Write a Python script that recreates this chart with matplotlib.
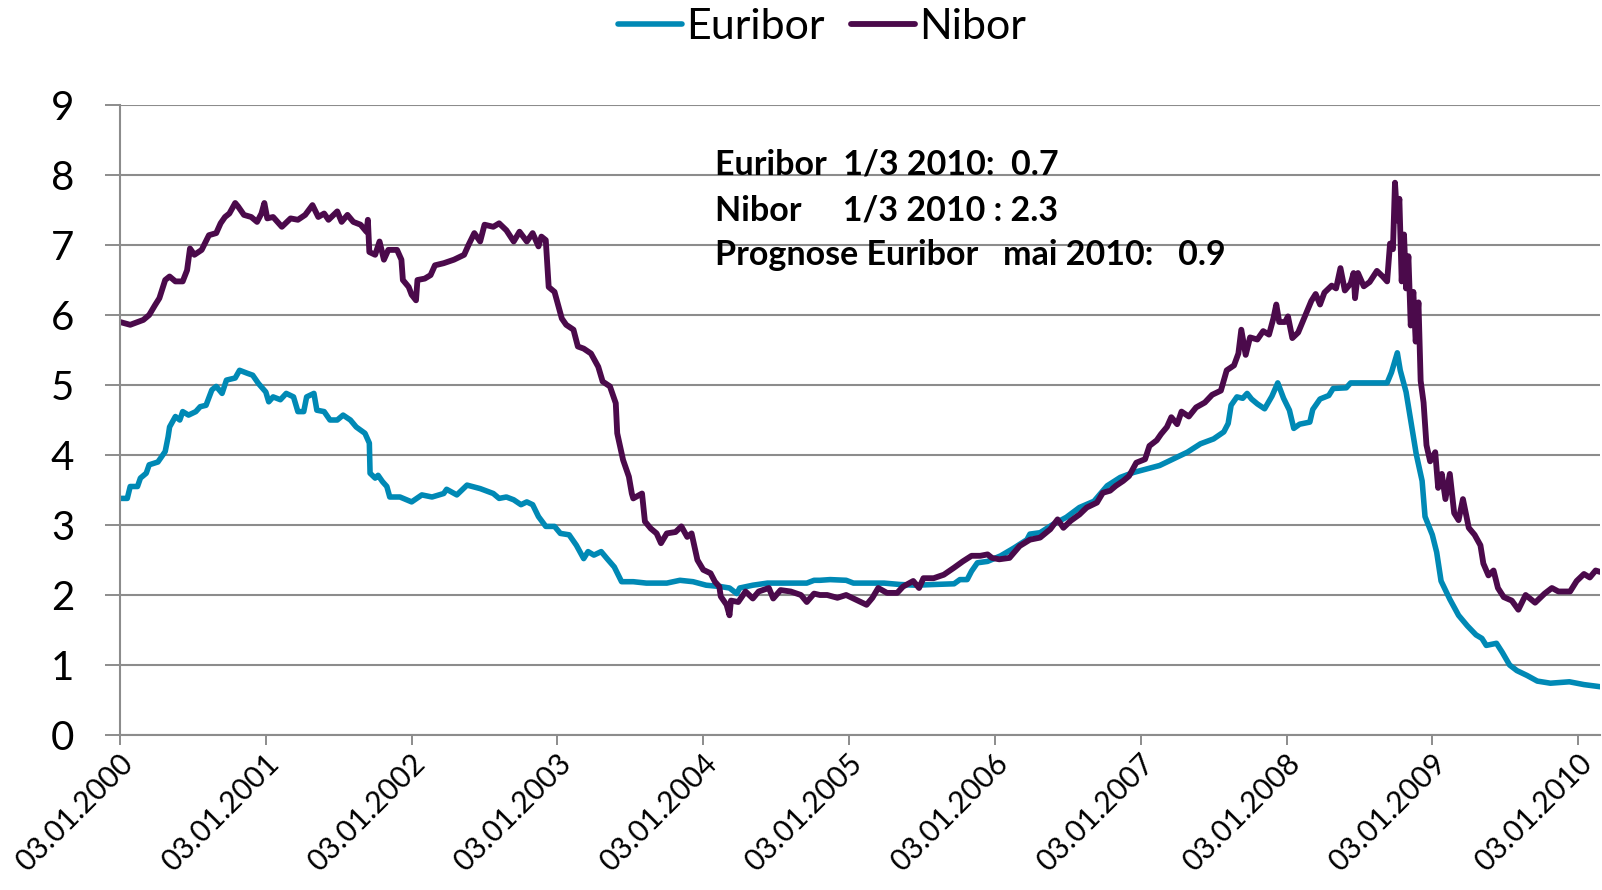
import matplotlib
matplotlib.use("Agg")
import matplotlib.pyplot as plt
import matplotlib.transforms as mtrans

# (years since 03.01.2000, rate in %)
euribor = [(0.00, 3.38), (0.05, 3.38), (0.07, 3.55), (0.12, 3.55), (0.14, 3.67), (0.18, 3.74),
           (0.20, 3.86), (0.26, 3.90), (0.31, 4.05), (0.33, 4.26), (0.34, 4.40), (0.38, 4.55),
           (0.41, 4.50), (0.43, 4.62), (0.47, 4.57), (0.52, 4.62), (0.55, 4.69), (0.59, 4.71),
           (0.63, 4.93), (0.66, 4.98), (0.70, 4.88), (0.73, 5.07), (0.79, 5.10), (0.82, 5.21),
           (0.87, 5.17), (0.91, 5.14), (0.95, 5.02), (1.00, 4.90), (1.02, 4.76), (1.05, 4.83),
           (1.10, 4.79), (1.14, 4.88), (1.19, 4.83), (1.22, 4.62), (1.26, 4.62), (1.28, 4.83),
           (1.33, 4.88), (1.35, 4.64), (1.40, 4.62), (1.44, 4.50), (1.49, 4.50), (1.53, 4.57),
           (1.58, 4.50), (1.62, 4.40), (1.68, 4.31), (1.71, 4.17), (1.715, 3.74), (1.75, 3.67),
           (1.77, 3.71), (1.80, 3.62), (1.83, 3.55), (1.85, 3.40), (1.92, 3.40), (2.00, 3.33),
           (2.07, 3.43), (2.14, 3.40), (2.22, 3.45), (2.24, 3.51), (2.31, 3.43), (2.38, 3.57),
           (2.47, 3.52), (2.56, 3.45), (2.60, 3.38), (2.65, 3.40), (2.70, 3.36), (2.75, 3.29),
           (2.79, 3.33), (2.83, 3.29), (2.87, 3.12), (2.92, 2.98), (2.98, 2.98), (3.02, 2.88),
           (3.08, 2.86), (3.13, 2.71), (3.18, 2.52), (3.21, 2.62), (3.25, 2.57), (3.30, 2.62),
           (3.34, 2.52), (3.39, 2.40), (3.44, 2.19), (3.52, 2.19), (3.61, 2.17), (3.75, 2.17),
           (3.84, 2.21), (3.93, 2.19), (4.02, 2.14), (4.12, 2.12), (4.18, 2.10), (4.23, 2.02),
           (4.25, 2.10), (4.34, 2.14), (4.44, 2.17), (4.53, 2.17), (4.62, 2.17), (4.71, 2.17),
           (4.76, 2.21), (4.80, 2.21), (4.87, 2.22), (4.98, 2.21), (5.03, 2.17), (5.24, 2.17),
           (5.35, 2.15), (5.46, 2.14), (5.58, 2.15), (5.72, 2.16), (5.76, 2.22), (5.81, 2.22),
           (5.84, 2.34), (5.88, 2.46), (5.95, 2.48), (6.04, 2.56), (6.13, 2.67), (6.22, 2.79),
           (6.24, 2.87), (6.31, 2.89), (6.40, 3.01), (6.49, 3.11), (6.58, 3.25), (6.68, 3.34),
           (6.77, 3.56), (6.86, 3.68), (6.95, 3.75), (7.04, 3.80), (7.13, 3.85), (7.22, 3.94),
           (7.32, 4.04), (7.41, 4.16), (7.50, 4.23), (7.57, 4.33), (7.60, 4.45), (7.62, 4.71),
           (7.66, 4.83), (7.70, 4.81), (7.73, 4.88), (7.76, 4.80), (7.80, 4.73), (7.85, 4.66),
           (7.90, 4.84), (7.94, 5.03), (7.98, 4.81), (8.02, 4.64), (8.05, 4.38), (8.09, 4.44),
           (8.16, 4.47), (8.18, 4.65), (8.23, 4.80), (8.29, 4.85), (8.32, 4.95), (8.41, 4.96),
           (8.44, 5.03), (8.55, 5.03), (8.69, 5.03), (8.72, 5.18), (8.76, 5.46), (8.78, 5.21),
           (8.82, 4.90), (8.86, 4.39), (8.89, 4.01), (8.93, 3.63), (8.95, 3.12), (9.00, 2.86),
           (9.03, 2.61), (9.06, 2.20), (9.12, 1.94), (9.18, 1.71), (9.24, 1.56), (9.30, 1.43),
           (9.34, 1.38), (9.37, 1.28), (9.44, 1.31), (9.48, 1.18), (9.53, 1.00), (9.58, 0.92),
           (9.65, 0.85), (9.72, 0.77), (9.81, 0.74), (9.94, 0.76), (10.04, 0.72), (10.15, 0.69)]

nibor = [(0.00, 5.90), (0.07, 5.86), (0.16, 5.93), (0.20, 6.00), (0.24, 6.14), (0.27, 6.24),
         (0.31, 6.50), (0.34, 6.55), (0.38, 6.48), (0.43, 6.48), (0.46, 6.64), (0.48, 6.95),
         (0.51, 6.86), (0.56, 6.93), (0.61, 7.14), (0.66, 7.17), (0.69, 7.31), (0.72, 7.40),
         (0.75, 7.45), (0.79, 7.60), (0.81, 7.55), (0.85, 7.43), (0.90, 7.40), (0.94, 7.33),
         (0.97, 7.45), (0.99, 7.60), (1.01, 7.38), (1.05, 7.40), (1.11, 7.26), (1.17, 7.38),
         (1.22, 7.36), (1.27, 7.43), (1.32, 7.57), (1.36, 7.40), (1.40, 7.45), (1.43, 7.36),
         (1.49, 7.48), (1.52, 7.33), (1.56, 7.43), (1.60, 7.33), (1.65, 7.29), (1.69, 7.19),
         (1.70, 7.36), (1.71, 6.90), (1.75, 6.86), (1.78, 7.05), (1.81, 6.79), (1.84, 6.93),
         (1.90, 6.93), (1.93, 6.79), (1.94, 6.50), (1.98, 6.40), (2.00, 6.29), (2.03, 6.21),
         (2.04, 6.50), (2.09, 6.52), (2.13, 6.57), (2.16, 6.71), (2.22, 6.74), (2.29, 6.79),
         (2.36, 6.86), (2.39, 7.00), (2.43, 7.17), (2.47, 7.05), (2.50, 7.29), (2.56, 7.26),
         (2.60, 7.31), (2.65, 7.21), (2.70, 7.05), (2.74, 7.19), (2.79, 7.05), (2.83, 7.17),
         (2.87, 6.98), (2.89, 7.12), (2.92, 7.07), (2.94, 6.40), (2.98, 6.33), (3.03, 5.95),
         (3.06, 5.86), (3.11, 5.79), (3.14, 5.55), (3.18, 5.52), (3.23, 5.45), (3.28, 5.26),
         (3.31, 5.05), (3.36, 4.98), (3.40, 4.74), (3.41, 4.31), (3.45, 3.93), (3.49, 3.69),
         (3.51, 3.45), (3.52, 3.38), (3.58, 3.45), (3.60, 3.05), (3.64, 2.95), (3.68, 2.88),
         (3.71, 2.74), (3.75, 2.88), (3.81, 2.90), (3.85, 2.98), (3.89, 2.83), (3.92, 2.88),
         (3.96, 2.50), (4.00, 2.36), (4.05, 2.31), (4.08, 2.19), (4.11, 2.12), (4.12, 1.98),
         (4.16, 1.86), (4.18, 1.71), (4.19, 1.92), (4.24, 1.90), (4.29, 2.05), (4.34, 1.95),
         (4.38, 2.05), (4.45, 2.10), (4.48, 1.95), (4.53, 2.07), (4.60, 2.05), (4.67, 2.00),
         (4.71, 1.90), (4.76, 2.02), (4.80, 2.00), (4.85, 2.00), (4.92, 1.96), (4.98, 2.00),
         (5.05, 1.93), (5.12, 1.86), (5.16, 1.96), (5.20, 2.10), (5.26, 2.03), (5.33, 2.03),
         (5.37, 2.12), (5.44, 2.20), (5.48, 2.10), (5.51, 2.24), (5.58, 2.24), (5.65, 2.29),
         (5.72, 2.39), (5.78, 2.48), (5.84, 2.56), (5.90, 2.56), (5.95, 2.58), (5.98, 2.53),
         (6.03, 2.51), (6.10, 2.53), (6.17, 2.70), (6.24, 2.79), (6.31, 2.82), (6.38, 2.94),
         (6.43, 3.08), (6.47, 2.96), (6.52, 3.06), (6.58, 3.15), (6.63, 3.25), (6.70, 3.32),
         (6.74, 3.46), (6.79, 3.49), (6.83, 3.56), (6.88, 3.63), (6.92, 3.70), (6.97, 3.89),
         (7.03, 3.94), (7.06, 4.13), (7.11, 4.21), (7.14, 4.30), (7.18, 4.40), (7.21, 4.54),
         (7.25, 4.44), (7.28, 4.62), (7.33, 4.55), (7.38, 4.68), (7.44, 4.75), (7.49, 4.86),
         (7.55, 4.92), (7.59, 5.21), (7.64, 5.28), (7.67, 5.45), (7.69, 5.79), (7.72, 5.43),
         (7.75, 5.68), (7.80, 5.65), (7.84, 5.77), (7.88, 5.72), (7.91, 5.95), (7.93, 6.15),
         (7.95, 5.90), (7.99, 5.90), (8.01, 5.98), (8.04, 5.67), (8.08, 5.75), (8.12, 5.95),
         (8.14, 6.05), (8.17, 6.20), (8.20, 6.30), (8.23, 6.15), (8.26, 6.32), (8.31, 6.42),
         (8.34, 6.38), (8.37, 6.67), (8.40, 6.35), (8.44, 6.45), (8.46, 6.60), (8.47, 6.24),
         (8.49, 6.60), (8.53, 6.41), (8.57, 6.47), (8.62, 6.63), (8.66, 6.55), (8.69, 6.48),
         (8.71, 7.02), (8.73, 6.94), (8.744, 7.89), (8.76, 7.35), (8.774, 7.66), (8.79, 6.48),
         (8.806, 7.15), (8.82, 6.38), (8.836, 6.84), (8.852, 5.85), (8.87, 6.33), (8.886, 5.62),
         (8.905, 6.18), (8.92, 5.06), (8.94, 4.75), (8.96, 4.14), (8.985, 3.91), (9.02, 4.04),
         (9.04, 3.53), (9.065, 3.73), (9.09, 3.37), (9.12, 3.73), (9.15, 3.17), (9.18, 3.07),
         (9.21, 3.37), (9.25, 2.96), (9.29, 2.86), (9.33, 2.71), (9.35, 2.45), (9.385, 2.28),
         (9.42, 2.35), (9.45, 2.10), (9.49, 1.97), (9.545, 1.92), (9.59, 1.79), (9.64, 2.00),
         (9.705, 1.89), (9.77, 2.02), (9.82, 2.10), (9.865, 2.05), (9.945, 2.05), (9.99, 2.20),
         (10.04, 2.30), (10.08, 2.25), (10.12, 2.35), (10.15, 2.33)]

tick_years = list(range(2000, 2011))
tick_labels = ["03.01.%d" % y for y in tick_years]
note_lines = ["Euribor  1/3 2010:  0.7",
              "Nibor     1/3 2010 : 2.3",
              "Prognose Euribor   mai 2010:   0.9"]

plt.rcParams['font.family'] = ['Lato', 'DejaVu Sans']
grid_col = '#8c8c8c'

fig = plt.figure(figsize=(16.02, 8.9), dpi=100)
ax = fig.add_axes([120 / 1602, 1 - 735 / 890, 1480 / 1602, 630 / 890])

et, ev = zip(*euribor)
nt, nv = zip(*nibor)
ax.plot(et, ev, color='#0089b5', lw=4.0, label='Euribor', solid_joinstyle='round',
        solid_capstyle='round')
ax.plot(nt, nv, color='#4b0a4b', lw=4.2, label='Nibor', solid_joinstyle='round',
        solid_capstyle='round')

ax.set_xlim(0, 10.15)
ax.set_ylim(0, 9)
ax.set_yticks(range(0, 10))
ax.set_xticks([y - 2000 for y in tick_years])
ax.set_xticklabels(tick_labels, rotation=45, ha='right', rotation_mode='anchor', fontsize=21.5)
ax.tick_params(axis='y', labelsize=29, length=11, width=1.4, color=grid_col, pad=22)
ax.tick_params(axis='x', length=7, width=1.4, color=grid_col, pad=3)
shift = mtrans.ScaledTranslation(-1 / 100, 0, fig.dpi_scale_trans)
for lab in ax.get_xticklabels():
    lab.set_transform(lab.get_transform() + shift)

ax.grid(axis='y', color=grid_col, lw=1.5)
ax.set_axisbelow(True)
for s in ['top', 'right']:
    ax.spines[s].set_visible(False)
for s in ['left', 'bottom']:
    ax.spines[s].set_color(grid_col)
    ax.spines[s].set_linewidth(1.5)

for i, line in enumerate(note_lines):
    fig.text(715 / 1602, 1 - (165 + 45 * i) / 890, line, fontsize=24.5, fontweight='bold',
             va='center', ha='left')

fig.legend(loc='center', bbox_to_anchor=(822 / 1602, 1 - 27 / 890), ncol=2, frameon=False,
           fontsize=31, handlelength=1.5, handletextpad=0.1, columnspacing=0.6)

fig.savefig('out.png', dpi=100)
